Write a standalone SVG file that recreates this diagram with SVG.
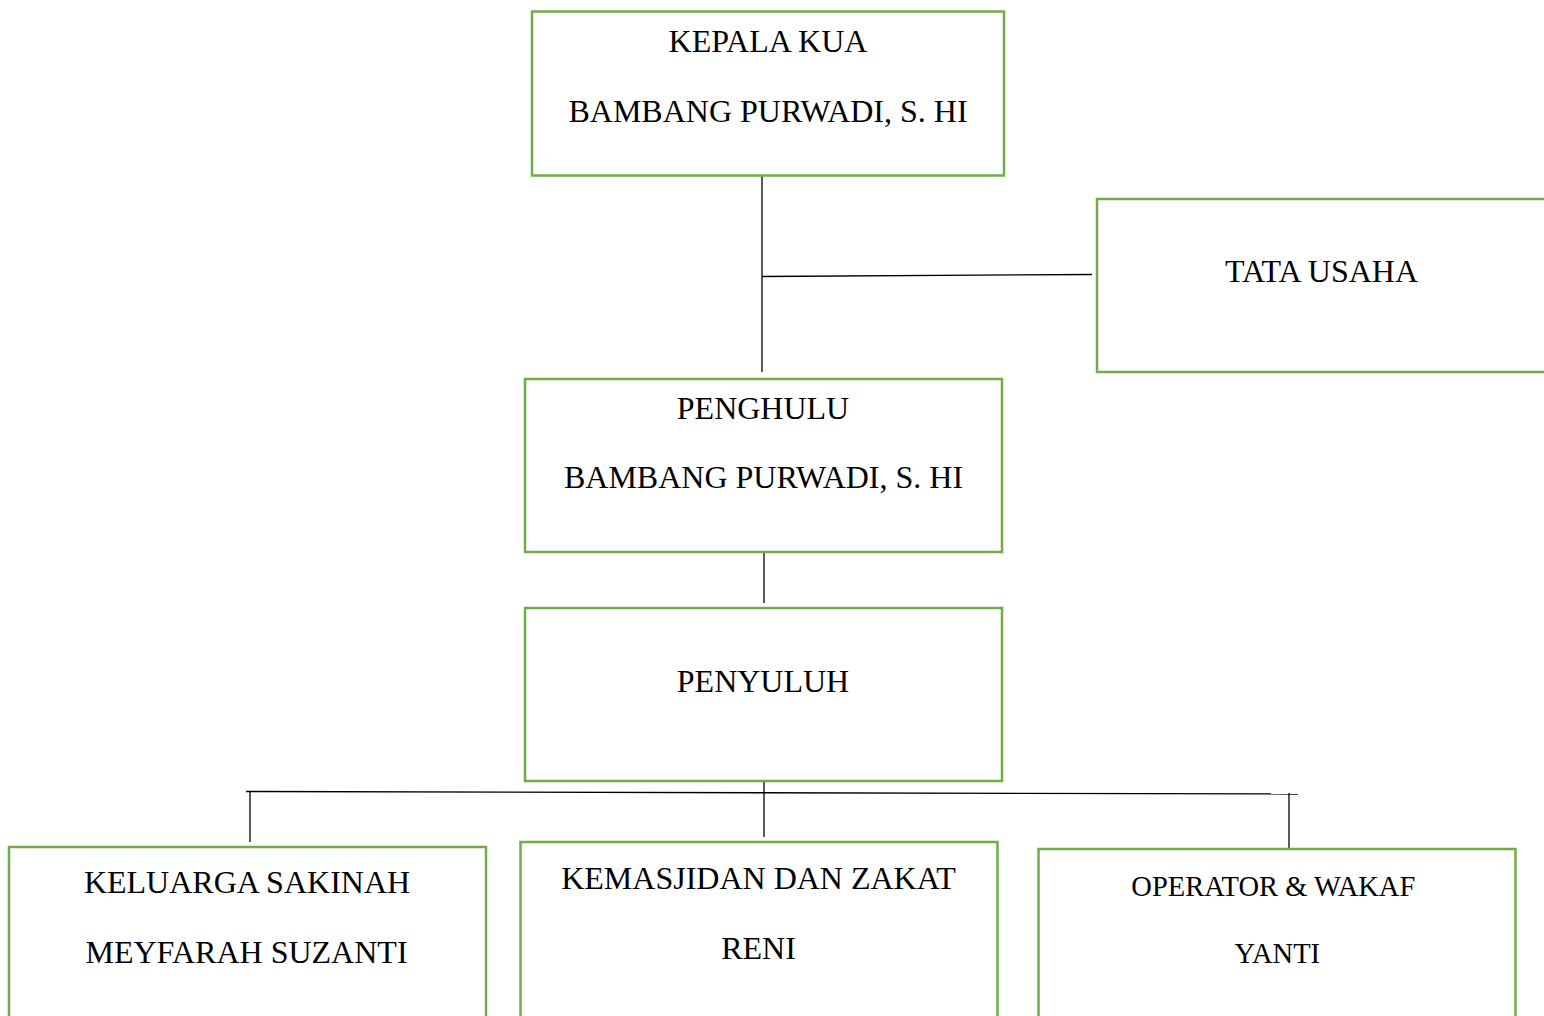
<svg xmlns="http://www.w3.org/2000/svg" width="1544" height="1016" viewBox="0 0 1544 1016">
<style>
.box{fill:#fff;stroke:#70AD47;stroke-width:2.5}
.t{font-family:"Liberation Serif","Times New Roman",serif;font-size:32px;fill:#000;text-anchor:middle}
.s{font-size:28.5px}
.c{stroke:#000;stroke-width:1.3;fill:none}
</style>
<rect width="1544" height="1016" fill="#fff"/>
<g id="connectors">
<line class="c" x1="762" y1="176" x2="762" y2="372"/>
<line class="c" x1="762" y1="276.5" x2="1092" y2="274.5"/>
<line class="c" x1="764" y1="548" x2="764" y2="603"/>
<line class="c" x1="764" y1="782" x2="764" y2="837"/>
<line class="c" x1="246" y1="791.5" x2="1298" y2="794"/>
<line class="c" x1="250" y1="792" x2="250" y2="842"/>
<line class="c" x1="1289" y1="793" x2="1289" y2="849"/>
</g>
<g id="kepala-kua">
<rect class="box" x="532" y="11.5" width="472" height="164"/>
<text class="t" x="768" y="52">KEPALA KUA</text>
<text class="t" x="768" y="121.5">BAMBANG PURWADI, S. HI</text>
</g>
<g id="tata-usaha">
<rect class="box" x="1097" y="199" width="452" height="173"/>
<text class="t" x="1321.5" y="281.5">TATA USAHA</text>
</g>
<g id="penghulu">
<rect class="box" x="525" y="379" width="477" height="173"/>
<text class="t" x="763" y="418.5">PENGHULU</text>
<text class="t" x="763.5" y="487.5">BAMBANG PURWADI, S. HI</text>
</g>
<g id="penyuluh">
<rect class="box" x="525" y="608" width="477" height="173"/>
<text class="t" x="763" y="691.5">PENYULUH</text>
</g>
<g id="keluarga-sakinah">
<rect class="box" x="9" y="847" width="477" height="180"/>
<text class="t" x="247" y="893.3">KELUARGA SAKINAH</text>
<text class="t" x="246.5" y="963.3">MEYFARAH SUZANTI</text>
</g>
<g id="kemasjidan">
<rect class="box" x="520.5" y="842" width="477" height="185"/>
<text class="t" x="758.5" y="888.5">KEMASJIDAN DAN ZAKAT</text>
<text class="t" x="758.5" y="958.5">RENI</text>
</g>
<g id="operator-wakaf">
<rect class="box" x="1038.5" y="849" width="477" height="180"/>
<text class="t s" x="1273.3" y="895.7">OPERATOR &amp; WAKAF</text>
<text class="t s" x="1277.3" y="962.7">YANTI</text>
</g>
</svg>
